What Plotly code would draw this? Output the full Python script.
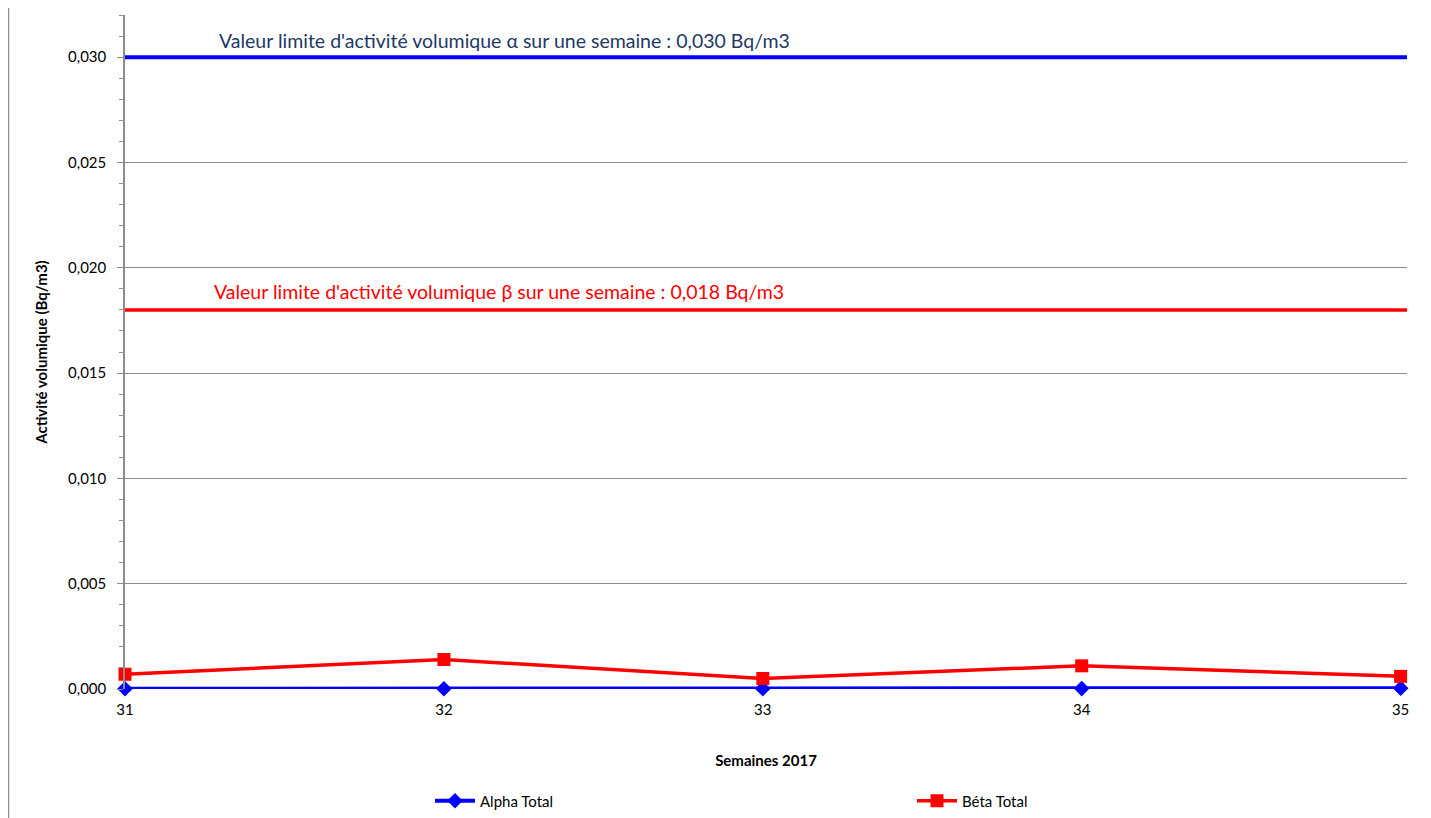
import plotly.graph_objects as go

weeks = [31, 32, 33, 34, 35]
alpha_total = [0.00001, 0.00001, 0.00001, 0.00002, 0.00004]
beta_total = [0.0007, 0.0014, 0.0005, 0.0011, 0.0006]
alpha_limit = 0.030
beta_limit = 0.018
y_ticks = [0.000, 0.005, 0.010, 0.015, 0.020, 0.025, 0.030]
y_tick_labels = ["0,000", "0,005", "0,010", "0,015", "0,020", "0,025", "0,030"]

FONT = "Lato, 'Open Sans', sans-serif"
PW = 1282.0  # plot width px
PH = 674.0   # plot height px

fig = go.Figure()
fig.add_trace(go.Scatter(
    x=weeks, y=alpha_total, name="Alpha Total", mode="lines+markers",
    line=dict(color="#0000FF", width=4),
    marker=dict(symbol="diamond", size=12, color="#0000FF"),
    cliponaxis=False,
))
fig.add_trace(go.Scatter(
    x=weeks, y=beta_total, name="Béta Total", mode="lines+markers",
    line=dict(color="#FF0000", width=3.5),
    marker=dict(symbol="square", size=13, color="#FF0000"),
    cliponaxis=False,
))

# limit lines
fig.add_shape(type="line", xref="paper", yref="y", x0=0, x1=1,
              y0=alpha_limit, y1=alpha_limit, line=dict(color="#0000FF", width=4))
fig.add_shape(type="line", xref="paper", yref="y", x0=0, x1=1,
              y0=beta_limit, y1=beta_limit, line=dict(color="#FF0000", width=3.5))
# outer left border
fig.add_shape(type="line", xref="paper", yref="paper", x0=-116.5 / PW, x1=-116.5 / PW,
              y0=-0.25, y1=1.05, line=dict(color="#8c8c8c", width=1.5))

fig.add_annotation(xref="paper", yref="y", x=(504 - 125) / PW, y=alpha_limit,
                   xanchor="center", yshift=17,
                   text="Valeur limite d'activité volumique α sur une semaine : 0,030 Bq/m3",
                   showarrow=False, font=dict(family=FONT, size=19.5, color="#1F3864"))
fig.add_annotation(xref="paper", yref="y", x=(499 - 125) / PW, y=beta_limit,
                   xanchor="center", yshift=18,
                   text="Valeur limite d'activité volumique β sur une semaine : 0,018 Bq/m3",
                   showarrow=False, font=dict(family=FONT, size=19.5, color="#FF0000"))

fig.update_layout(
    width=1431, height=818,
    margin=dict(l=117, r=32, t=7, b=137, autoexpand=False),
    paper_bgcolor="white", plot_bgcolor="white",
    font=dict(family=FONT, size=15, color="black"),
    showlegend=True,
    legend=dict(orientation="h", x=(430 - 125) / PW, xanchor="left",
                y=-112 / PH, yanchor="middle", entrywidth=427, entrywidthmode="pixels",
                font=dict(family=FONT, size=15), itemwidth=40),
    xaxis=dict(range=[31, 35.02], tickvals=weeks, ticktext=[str(w) for w in weeks],
               showgrid=False, zeroline=False, showline=False, ticks="",
               ticklabelstandoff=10,
               title=dict(text="<b>Semaines 2017</b>", font=dict(family=FONT, size=15), standoff=38),
               tickfont=dict(family=FONT, size=15)),
    yaxis=dict(range=[0, 0.032], tickvals=y_ticks, ticktext=y_tick_labels,
               showgrid=True, gridcolor="#8c8c8c", gridwidth=1, zeroline=False,
               showline=True, linecolor="#8c8c8c", linewidth=1.5,
               ticks="outside", ticklen=6, tickcolor="#8c8c8c", ticklabelstandoff=8,
               minor=dict(dtick=0.001, ticks="outside", ticklen=4, tickcolor="#8c8c8c", showgrid=False),
               title=dict(text="<b>Activité volumique (Bq/m3)</b>", font=dict(family=FONT, size=15), standoff=17),
               tickfont=dict(family=FONT, size=15)),
)

fig.write_html("out.html")
